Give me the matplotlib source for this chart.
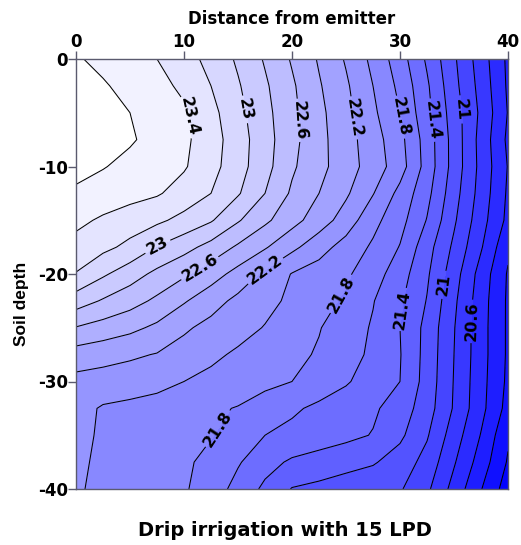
import numpy as np
import matplotlib
matplotlib.use("Agg")
import matplotlib.pyplot as plt

plt.rcParams['font.family'] = ['DejaVu Sans']

# distance from emitter (x) and soil depth (y)
distance = [0, 2.5, 5, 7.5, 10, 12.5, 15, 17.5, 20, 22.5, 25, 27.5, 30, 32.5, 35, 37.5, 40]
depth = [0, -2.5, -5, -7.5, -10, -12.5, -15, -17.5, -20, -22.5, -25, -27.5, -30, -32.5, -35, -37.5, -40]

# values, one list per depth row
t_d00_0 = [23.62, 23.55, 23.47, 23.40, 23.28, 23.14, 22.97, 22.78, 22.58, 22.38, 22.18, 21.95, 21.69, 21.37, 21.03, 20.70, 20.36]
t_d02_5 = [23.70, 23.62, 23.54, 23.46, 23.36, 23.20, 23.02, 22.83, 22.63, 22.42, 22.23, 22.00, 21.75, 21.43, 21.06, 20.73, 20.37]
t_d05_0 = [23.74, 23.67, 23.60, 23.51, 23.43, 23.26, 23.06, 22.86, 22.65, 22.45, 22.26, 22.04, 21.80, 21.46, 21.10, 20.76, 20.39]
t_d07_5 = [23.73, 23.67, 23.62, 23.54, 23.44, 23.29, 23.09, 22.88, 22.66, 22.46, 22.28, 22.09, 21.86, 21.51, 21.12, 20.73, 20.36]
t_d10_0 = [23.66, 23.61, 23.55, 23.48, 23.42, 23.27, 23.08, 22.87, 22.63, 22.46, 22.29, 22.11, 21.89, 21.52, 21.12, 20.74, 20.39]
t_d12_5 = [23.57, 23.52, 23.47, 23.42, 23.32, 23.20, 23.02, 22.80, 22.57, 22.40, 22.23, 22.01, 21.74, 21.46, 21.08, 20.72, 20.37]
t_d15_0 = [23.45, 23.37, 23.30, 23.24, 23.14, 23.02, 22.82, 22.64, 22.47, 22.30, 22.11, 21.86, 21.67, 21.39, 21.03, 20.68, 20.35]
t_d17_5 = [23.33, 23.25, 23.15, 22.99, 22.87, 22.73, 22.57, 22.42, 22.25, 22.08, 21.92, 21.77, 21.59, 21.28, 20.96, 20.62, 20.24]
t_d20_0 = [23.19, 23.03, 22.89, 22.75, 22.63, 22.49, 22.33, 22.16, 21.99, 21.91, 21.83, 21.69, 21.49, 21.23, 20.89, 20.52, 20.18]
t_d22_5 = [22.90, 22.78, 22.68, 22.56, 22.42, 22.28, 22.15, 22.06, 21.96, 21.87, 21.77, 21.61, 21.43, 21.19, 20.84, 20.49, 20.17]
t_d25_0 = [22.59, 22.52, 22.45, 22.36, 22.23, 22.14, 22.07, 21.99, 21.90, 21.81, 21.70, 21.58, 21.40, 21.14, 20.81, 20.48, 20.17]
t_d27_5 = [22.31, 22.27, 22.23, 22.19, 22.12, 22.04, 21.97, 21.91, 21.85, 21.78, 21.68, 21.56, 21.41, 21.13, 20.80, 20.48, 20.17]
t_d30_0 = [22.14, 22.12, 22.10, 22.07, 22.00, 21.95, 21.90, 21.85, 21.80, 21.71, 21.62, 21.51, 21.40, 21.12, 20.79, 20.47, 20.16]
t_d32_5 = [22.07, 21.98, 21.95, 21.91, 21.87, 21.83, 21.79, 21.71, 21.63, 21.56, 21.50, 21.43, 21.31, 21.09, 20.78, 20.46, 20.13]
t_d35_0 = [22.04, 21.98, 21.93, 21.89, 21.85, 21.81, 21.71, 21.60, 21.55, 21.50, 21.45, 21.39, 21.24, 21.02, 20.70, 20.39, 20.03]
t_d37_5 = [22.03, 21.97, 21.92, 21.88, 21.83, 21.75, 21.62, 21.47, 21.37, 21.32, 21.27, 21.22, 21.11, 20.93, 20.62, 20.31, 19.98]
t_d40_0 = [22.02, 21.96, 21.92, 21.87, 21.82, 21.71, 21.53, 21.36, 21.19, 21.15, 21.10, 21.06, 21.02, 20.84, 20.53, 20.21, 19.90]

x_ticks = [0, 10, 20, 30, 40]
y_ticks = [0, -10, -20, -30, -40]
labelled_levels = [20.6, 21.0, 21.4, 21.8, 22.2, 22.6, 23.0, 23.4]

Z = np.array([t_d00_0, t_d02_5, t_d05_0, t_d07_5, t_d10_0, t_d12_5, t_d15_0, t_d17_5,
              t_d20_0, t_d22_5, t_d25_0, t_d27_5, t_d30_0, t_d32_5, t_d35_0, t_d37_5, t_d40_0])
X, Y = np.meshgrid(distance, depth)

fill_levels = np.round(np.arange(19.8, 23.81, 0.2), 1)
line_levels = fill_levels[1:-1]
plain_levels = [lv for lv in line_levels if not np.any(np.isclose(lv, labelled_levels))]
nb = len(fill_levels) - 1
fill_colors = []
for i in range(nb):
    k = nb - 1 - i
    v = max(0.0, 1 - 0.052 * k)
    fill_colors.append((v, v, 1.0))

fig = plt.figure(figsize=(5.21, 5.45), dpi=100)
ax = fig.add_axes([76 / 521, 1 - 489 / 545, 432 / 521, 430 / 545])

ax.contourf(X, Y, Z, levels=fill_levels, colors=fill_colors)
ax.contour(X, Y, Z, levels=plain_levels, colors='black', linewidths=0.75)
cs = ax.contour(X, Y, Z, levels=labelled_levels, colors='black', linewidths=0.75)

label_pos = [(10.2, -5.4), (15.6, -4.7), (20.7, -5.7), (25.6, -5.5), (29.5, -5.5),
             (32.9, -5.7), (35.6, -4.7),
             (7.5, -17.3), (11.2, -19.0), (17.4, -19.5), (24.8, -22.0), (13.3, -34.5),
             (30.3, -23.3), (34.0, -21.0), (36.5, -24.4)]
texts = ax.clabel(cs, manual=label_pos, fmt='%g', fontsize=11.5, inline=True, inline_spacing=4)
for t in texts:
    t.set_fontweight('bold')

ax.set_xlim(0, 40)
ax.set_ylim(-40, 0)
ax.xaxis.tick_top()
ax.xaxis.set_label_position('top')
ax.set_xticks(x_ticks)
ax.set_yticks(y_ticks)
ax.set_xticklabels([str(v) for v in x_ticks], fontweight='bold', fontsize=12)
ax.set_yticklabels([str(v) for v in y_ticks], fontweight='bold', fontsize=12)
spine_col = '#5a5a6e'
for s in ax.spines.values():
    s.set_color(spine_col)
    s.set_linewidth(1.0)
ax.tick_params(axis='both', colors=spine_col, labelcolor='black', length=5.5, width=1, pad=0.5)

ax.set_xlabel('Distance from emitter', fontweight='bold', fontsize=12, labelpad=6.5)
fig.text(22 / 521, 1 - 304 / 545, 'Soil depth', rotation=90, fontweight='bold',
         fontsize=12.5, ha='center', va='center', family=['Liberation Sans', 'DejaVu Sans'])
fig.text(285 / 521, 1 - 530 / 545, 'Drip irrigation with 15 LPD', fontweight='bold',
         fontsize=14, ha='center', va='center')

fig.savefig('out.png', dpi=100)
